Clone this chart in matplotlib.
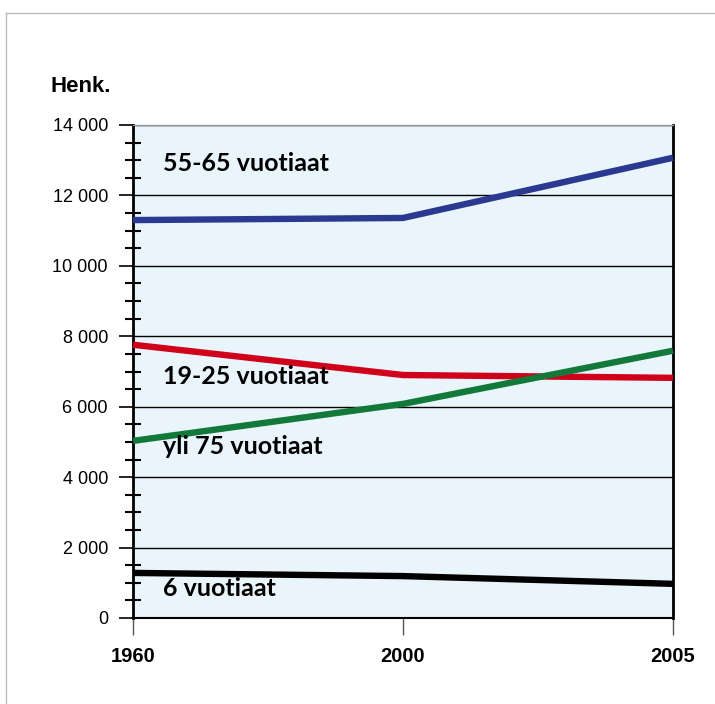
import matplotlib
matplotlib.use("Agg")
import matplotlib.pyplot as plt
from matplotlib.lines import Line2D
from matplotlib.ticker import MultipleLocator, FuncFormatter

years = ["1960", "2000", "2005"]
age_55_65 = [11300, 11360, 13070]
age_19_25 = [7760, 6900, 6820]
age_over75 = [5030, 6080, 7590]
age_6 = [1280, 1190, 970]

series = [
    ("55-65 vuotiaat", age_55_65, "#2b3990", 12900),
    ("19-25 vuotiaat", age_19_25, "#d0021b", 6850),
    ("yli 75 vuotiaat", age_over75, "#12793a", 4870),
    ("6 vuotiaat", age_6, "#000000", 830),
]

fig = plt.figure(figsize=(7.15, 7.04), dpi=100)
ax = fig.add_axes([133/715, 1-618/704, 540/715, 493/704])
ax.set_facecolor("#eaf4fb")

x = list(range(len(years)))
for label, vals, color, ly in series:
    ax.plot(x, vals, color=color, lw=4.6, solid_capstyle="butt", zorder=3, clip_on=False)
    ax.text(0.11, ly, label, fontsize=18, fontweight="bold", family=["Lato", "DejaVu Sans"],
            va="center", ha="left", color="black", zorder=4)

ax.set_xlim(0, 2)
ax.set_ylim(0, 14000)
ax.set_xticks(x)
ax.set_xticklabels(years, fontsize=14.5, fontweight="bold", family="Liberation Sans")
ax.tick_params(axis="x", length=12, width=1, color="#555555", pad=9)

ax.yaxis.set_major_locator(MultipleLocator(2000))
ax.yaxis.set_minor_locator(MultipleLocator(500))
ax.yaxis.set_major_formatter(FuncFormatter(lambda v, p: f"{int(v):,}".replace(",", " ")))
ax.tick_params(axis="y", which="major", length=10, width=1.2, labelsize=13, pad=8)
ax.tick_params(axis="y", which="minor", length=12, width=1.5, direction="inout")
for lab in ax.get_yticklabels():
    lab.set_family("Liberation Sans")

ax.grid(axis="y", which="major", color="black", lw=1.0, zorder=1)
ax.set_axisbelow(True)

ax.spines["left"].set_linewidth(2)
ax.spines["bottom"].set_linewidth(1.5)
ax.spines["right"].set_linewidth(2)
ax.spines["top"].set_linewidth(1)
ax.spines["top"].set_color("#999999")

fig.text(50/715, 1-87/704, "Henk.", fontsize=16, fontweight="bold", family="Liberation Sans",
         va="center", ha="left")

# page border lines
fig.add_artist(Line2D([6/715, 1], [1-13/704, 1-13/704], color="#bbbbbb", lw=1))
fig.add_artist(Line2D([6/715, 6/715], [0, 1-13/704], color="#bbbbbb", lw=1))

fig.savefig("out.png", dpi=100)
